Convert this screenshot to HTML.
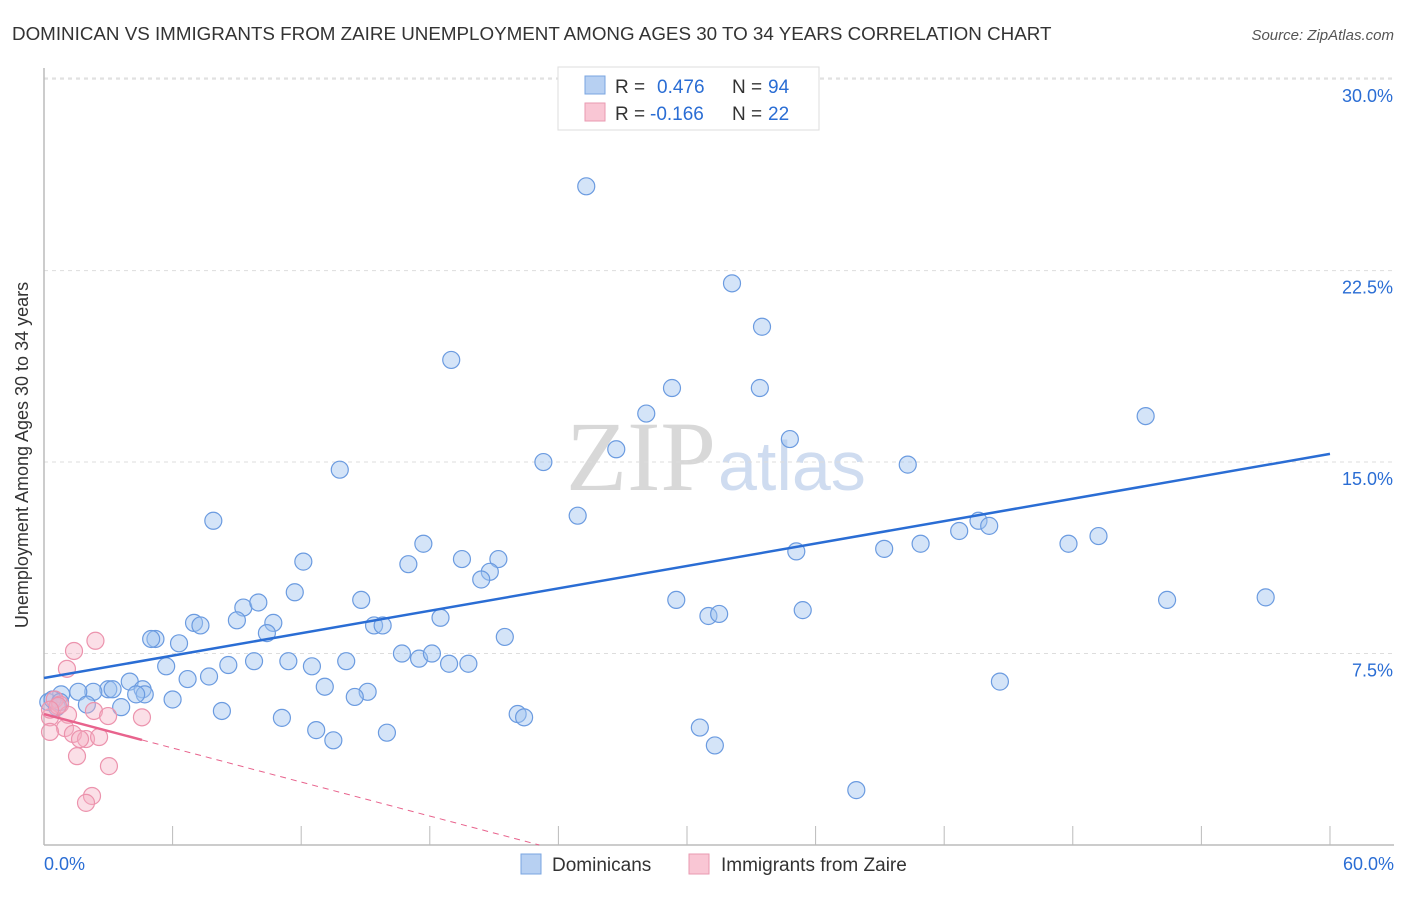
<!DOCTYPE html>
<html><head><meta charset="utf-8"><style>
body{margin:0;background:#fff;font-family:"Liberation Sans",sans-serif;}
svg text{font-family:"Liberation Sans",sans-serif;}
</style></head><body>
<svg id="c" width="1406" height="892" xmlns="http://www.w3.org/2000/svg">
<text x="12" y="40" font-size="18.8" fill="#333">DOMINICAN VS IMMIGRANTS FROM ZAIRE UNEMPLOYMENT AMONG AGES 30 TO 34 YEARS CORRELATION CHART</text>
<text x="1394" y="40" font-size="15" fill="#555" font-style="italic" text-anchor="end">Source: ZipAtlas.com</text>
<text x="716" y="490" font-size="100" fill="#d8d8d8" text-anchor="end" style="font-family:'Liberation Serif',serif">ZIP</text>
<text x="718" y="490" font-size="70" fill="#cfdcf0">atlas</text>
<g id="grid"></g>
<g id="axes"></g>
<g id="marks"></g>
<text x="28" y="455" font-size="18" fill="#333" text-anchor="middle" transform="rotate(-90 28 455)">Unemployment Among Ages 30 to 34 years</text>
<g>
<rect x="558" y="67" width="261" height="63" fill="#fff" stroke="#ddd"/>
<rect x="585" y="76" width="20" height="18" fill="#b7d0f2" stroke="#7aa5e0"/>
<text x="615" y="93" font-size="19" fill="#333">R = </text><text x="657" y="93" font-size="19" fill="#2a6dd4">0.476</text>
<text x="732" y="93" font-size="19" fill="#333">N = </text><text x="768" y="93" font-size="19" fill="#2a6dd4">94</text>
<rect x="585" y="103" width="20" height="18" fill="#f9c6d4" stroke="#e99ab1"/>
<text x="615" y="120" font-size="19" fill="#333">R = </text><text x="650" y="120" font-size="19" fill="#2a6dd4">-0.166</text>
<text x="732" y="120" font-size="19" fill="#333">N = </text><text x="768" y="120" font-size="19" fill="#2a6dd4">22</text>
</g>
<g>
<rect x="521" y="854" width="20" height="20" fill="#b7d0f2" stroke="#7aa5e0"/>
<text x="552" y="871" font-size="19" fill="#333">Dominicans</text>
<rect x="689" y="854" width="20" height="20" fill="#f9c6d4" stroke="#e99ab1"/>
<text x="721" y="871" font-size="19" fill="#333">Immigrants from Zaire</text>
</g>
</svg>
<script>
const yTicks=[7.5,15,22.5,30];
const yTickLabels=["7.5%","15.0%","22.5%","30.0%"];
const xTickCount=10;
const blueX=[25.3,32.1,33.5,19.0,29.3,33.4,28.1,51.4,34.8,26.7,23.3,13.8,40.3,7.9,24.9,43.6,44.1,42.7,49.2,17.7,39.2,40.9,47.8,35.1,19.5,12.1,17.0,21.2,20.8,20.4,11.7,29.5,14.8,52.4,57.0,9.3,10.0,35.4,7.0,9.0,7.3,10.7,31.0,31.5,18.5,15.4,15.8,10.4,5.2,5.0,6.3,21.5,16.7,17.5,18.1,11.4,5.7,8.6,9.8,12.5,14.1,18.9,19.8,7.7,6.7,13.1,4.0,4.6,3.0,2.3,3.2,1.6,44.6,15.1,14.5,6.0,4.7,4.3,3.6,0.8,0.2,0.6,0.4,8.3,11.1,22.1,22.4,12.7,30.6,13.5,16.0,31.3,37.9,2.0,0.75];
const blueY=[25.8,22.0,20.3,19.0,17.9,17.9,16.9,16.8,15.9,15.5,15.0,14.7,14.9,12.7,12.9,12.7,12.5,12.3,12.1,11.8,11.6,11.8,11.8,11.5,11.2,11.1,11.0,11.2,10.7,10.4,9.9,9.6,9.6,9.6,9.7,9.3,9.5,9.2,8.7,8.8,8.6,8.7,8.97,9.05,8.9,8.6,8.6,8.3,8.07,8.07,7.9,8.15,7.5,7.3,7.5,7.2,7.0,7.05,7.2,7.0,7.2,7.1,7.1,6.6,6.5,6.2,6.4,6.1,6.1,6.0,6.1,6.0,6.4,6.0,5.8,5.7,5.9,5.9,5.4,5.9,5.6,5.4,5.7,5.25,4.98,5.13,5.0,4.5,4.6,4.1,4.4,3.9,2.15,5.5,5.6];
const pinkX=[2.4,1.4,1.07,0.5,0.75,0.28,1.12,2.33,4.57,2.99,0.98,0.28,1.35,1.96,1.68,2.57,1.54,3.03,2.24,1.96,0.65,0.28];
const pinkY=[8.0,7.6,6.9,5.7,5.5,5.0,5.1,5.25,5.0,5.05,4.58,4.43,4.35,4.15,4.15,4.23,3.48,3.09,1.92,1.65,5.45,5.3];
const blueFit=[6.54,15.32];
const pinkFit=[5.13,-0.222];
const NS="http://www.w3.org/2000/svg";
const X=v=>44+v*21.433, Y=v=>845-v*25.53;
function mk(t,a,p){const e=document.createElementNS(NS,t);for(const k in a)e.setAttribute(k,a[k]);p.appendChild(e);return e;}
const gridG=document.getElementById('grid'),axesG=document.getElementById('axes'),marksG=document.getElementById('marks');
yTicks.forEach((t,i)=>{
 const l=mk('line',{x1:44,x2:1394,y1:Y(t),y2:Y(t),stroke:'#ddd','stroke-dasharray':'4,4'},gridG);
 
 
 const tx=mk('text',{x:1393,y:Y(t)+23,'font-size':18,fill:'#2a6dd4','text-anchor':'end'},axesG);tx.textContent=yTickLabels[i];
 
 
});
const topLine=mk('line',{x1:44,x2:1394,y1:78,y2:78,stroke:'#ddd','stroke-dasharray':'4,4'},gridG);


const ax=mk('line',{x1:44,x2:1394,y1:845,y2:845,stroke:'#bbb','stroke-width':1.5},axesG);


const ay=mk('line',{x1:44,x2:44,y1:68,y2:845,stroke:'#bbb','stroke-width':1.5},axesG);


for(let i=1;i<=xTickCount;i++){const tk=mk('line',{x1:X(i*6),x2:X(i*6),y1:826,y2:845,stroke:'#bbb'},axesG);
 
 }
const t0=mk('text',{x:44,y:870,'font-size':18,fill:'#2a6dd4'},axesG);t0.textContent='0.0%';


const t1=mk('text',{x:1394,y:870,'font-size':18,fill:'#2a6dd4','text-anchor':'end'},axesG);t1.textContent='60.0%';


blueX.forEach((x,i)=>{const c=mk('circle',{cx:X(x),cy:Y(blueY[i]),r:8.5,fill:'rgba(160,195,240,0.45)',stroke:'#6b9be0','stroke-width':1.2},marksG);
 
 });
pinkX.forEach((x,i)=>{const c=mk('circle',{cx:X(x),cy:Y(pinkY[i]),r:8.5,fill:'rgba(246,175,195,0.4)',stroke:'#ec93ad','stroke-width':1.2},marksG);
 
 });
const bl=mk('line',{x1:X(0),y1:Y(blueFit[0]),x2:X(60),y2:Y(blueFit[1]),stroke:'#2a6dd4','stroke-width':2.5},marksG);


const xe=Math.max(...pinkX), xz=-pinkFit[0]/pinkFit[1];
const pl=mk('line',{x1:X(0),y1:Y(pinkFit[0]),x2:X(xe),y2:Y(pinkFit[0]+pinkFit[1]*xe),stroke:'#e8638d','stroke-width':2.5},marksG);


const pd=mk('line',{x1:X(xe),y1:Y(pinkFit[0]+pinkFit[1]*xe),x2:X(xz),y2:Y(0),stroke:'#e8638d','stroke-width':1,'stroke-dasharray':'6,5'},marksG);


</script>
</body></html>
